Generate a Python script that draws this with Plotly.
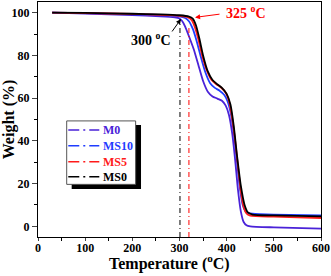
import plotly.graph_objects as go

# Temperature (°C) sample points and weight (%) per sample
T_M0 = [30, 100, 200, 260, 290, 300, 306, 312, 320, 330, 340, 350, 360, 370, 380, 390, 398, 405, 412, 418, 424, 430, 436, 442, 450, 500, 600]
W_M0 = [100, 99.6, 98.9, 98.3, 97.8, 97.3, 96.0, 93.5, 89.0, 83.0, 75.5, 68.0, 63.0, 60.8, 59.8, 58.8, 56.5, 52.0, 43.0, 31.0, 17.0, 7.0, 2.0, 0.5, 0.0, -0.5, -1.1]

T_MS10 = [30, 100, 200, 260, 300, 312, 320, 328, 336, 345, 355, 365, 375, 385, 395, 402, 410, 416, 422, 428, 434, 440, 446, 455, 500, 600]
W_MS10 = [100, 99.8, 99.3, 98.9, 98.3, 97.5, 96.0, 92.5, 87.0, 79.5, 72.0, 67.0, 64.8, 63.5, 61.5, 58.5, 51.5, 42.0, 30.0, 18.0, 10.0, 7.0, 6.2, 5.9, 5.5, 5.1]

T_MS5 = [30, 100, 200, 260, 300, 318, 326, 333, 340, 348, 358, 368, 378, 388, 398, 405, 412, 418, 424, 430, 436, 442, 450, 500, 600]
W_MS5 = [100, 99.8, 99.4, 99.0, 98.5, 97.8, 96.5, 93.0, 87.5, 80.0, 73.0, 68.5, 66.5, 65.0, 62.5, 58.5, 50.0, 40.0, 28.0, 16.5, 9.0, 6.0, 5.0, 4.5, 3.9]

T_MS0 = [30, 100, 200, 260, 300, 320, 328, 335, 342, 350, 360, 370, 380, 390, 400, 408, 415, 422, 430, 438, 445, 455, 500, 600]
W_MS0 = [100, 99.9, 99.5, 99.2, 98.8, 98.2, 97.2, 94.0, 88.0, 80.0, 72.5, 68.5, 66.5, 64.8, 62.0, 57.0, 47.0, 33.0, 19.0, 10.0, 6.5, 5.5, 5.1, 4.7]

names = ["M0", "MS10", "MS5", "MS0"]
colors = ["#4a22d8", "#1f3cff", "#ff1a1a", "#000000"]
series = [(T_M0, W_M0), (T_MS10, W_MS10), (T_MS5, W_MS5), (T_MS0, W_MS0)]

x_ticks = [0, 100, 200, 300, 400, 500, 600]
y_ticks = [0, 20, 40, 60, 80, 100]

FONT = "Liberation Serif"

fig = go.Figure()
for (t, w), n, c in zip(series, names, colors):
    fig.add_trace(go.Scatter(x=t, y=w, mode="lines", name=n,
                             line=dict(color=c, width=1.8, shape="spline", smoothing=0.6),
                             showlegend=False, hoverinfo="skip"))

# onset markers
fig.add_trace(go.Scatter(x=[301, 301], y=[-5, 97], mode="lines", line=dict(color="black", width=1, dash="5px,3px,1px,3px"),
                         showlegend=False, hoverinfo="skip"))
fig.add_trace(go.Scatter(x=[320, 320], y=[-5, 94], mode="lines", line=dict(color="red", width=1, dash="5px,3px,1px,3px"),
                         showlegend=False, hoverinfo="skip"))

fig.add_annotation(x=239, y=87.5, text="300 <sup>o</sup>C", showarrow=False, xref="x", yref="y",
                   font=dict(family=FONT, size=14, color="black", weight="bold"))
fig.add_annotation(x=303, y=97, ax=282, ay=90.5, axref="x", ayref="y", xref="x", yref="y", text="",
                   showarrow=True, arrowhead=2, arrowsize=1, arrowwidth=1, arrowcolor="black")
fig.add_annotation(x=441, y=100.5, text="325 <sup>o</sup>C", showarrow=False, xref="x", yref="y",
                   font=dict(family=FONT, size=14, color="red", weight="bold"))
fig.add_annotation(x=333, y=97.8, ax=388, ay=99.4, axref="x", ayref="y", xref="x", yref="y", text="",
                   showarrow=True, arrowhead=2, arrowsize=1, arrowwidth=1, arrowcolor="red")

# hand-built legend (box with drop shadow, dash-dot samples, coloured labels)
fig.add_shape(type="rect", xref="paper", yref="paper", x0=0.119, x1=0.364, y0=0.204, y1=0.477,
              fillcolor="black", line=dict(width=0), layer="above")
fig.add_shape(type="rect", xref="paper", yref="paper", x0=0.1014, x1=0.345, y0=0.224, y1=0.494,
              fillcolor="white", line=dict(color="#555555", width=1), layer="above")
leg_y = [0.455, 0.3885, 0.320, 0.2566]
for n, c, yy in zip(names, colors, leg_y):
    fig.add_shape(type="line", xref="paper", yref="paper", x0=0.107, x1=0.2166, y0=yy, y1=yy,
                  line=dict(color=c, width=1.5, dash="11px,4px,2px,4px"), layer="above")
    fig.add_annotation(x=0.222, y=yy, xref="paper", yref="paper", text=n, showarrow=False,
                       xanchor="left", yanchor="middle",
                       font=dict(family=FONT, size=12, color=c, weight="bold"))

# x axis title
fig.add_annotation(x=0.463, y=-0.11, xref="paper", yref="paper", text="Temperature (<sup>o</sup>C)",
                   showarrow=False, xanchor="center", yanchor="middle",
                   font=dict(family=FONT, size=16, color="black", weight="bold"))

fig.update_layout(
    width=331, height=276,
    margin=dict(l=38, r=10, t=2, b=39, autoexpand=False),
    paper_bgcolor="white", plot_bgcolor="white",
    font=dict(family=FONT, size=12, color="black", weight="bold"),
    showlegend=False,
)
fig.update_xaxes(range=[0, 600], tickvals=x_ticks, ticks="outside", ticklen=3, tickwidth=1,
                 showline=True, linecolor="black", linewidth=1, mirror=True, showgrid=False, zeroline=False,
                 minor=dict(dtick=50, ticks="outside", ticklen=3, tickcolor="black"),
                 ticklabelstandoff=-3,
                 tickfont=dict(family=FONT, size=12, weight="bold"))
fig.update_yaxes(range=[-5, 105], tickvals=y_ticks, ticks="outside", ticklen=5, tickwidth=1,
                 showline=True, linecolor="black", linewidth=1, mirror=True, showgrid=False, zeroline=False,
                 minor=dict(dtick=10, ticks="outside", ticklen=3, tickcolor="black"),
                 title=dict(text="Weight (%)", font=dict(family=FONT, size=16, weight="bold"), standoff=4),
                 tickfont=dict(family=FONT, size=12, weight="bold"))

fig.write_html("out.html", config={"displayModeBar": False},
               post_script="document.body.style.margin='0';document.body.style.overflow='hidden';")
